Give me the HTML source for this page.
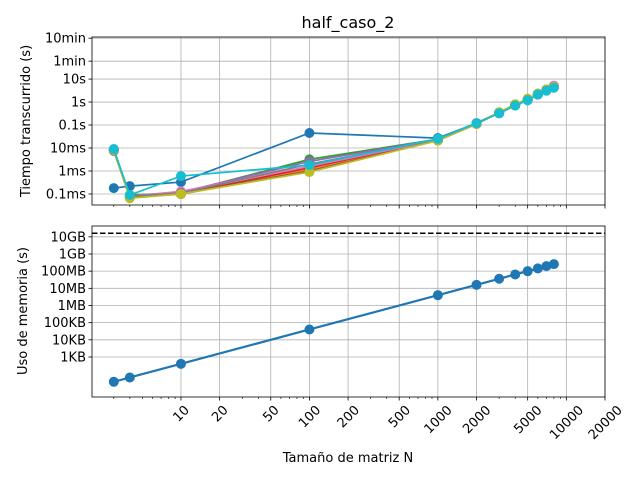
<!DOCTYPE html>
<html><head><meta charset="utf-8"><style>
html,body{margin:0;padding:0;background:#fff}
svg{display:block;font-family:"DejaVu Sans","Liberation Sans",sans-serif}
</style></head><body>
<svg id="chart" width="640" height="480" viewBox="0 0 640 480"></svg>
<script>
const nValues = [3,4,10,100,1000,2000,3000,4000,5000,6000,7000,8000];
const timeSeriesNames = ['blue','orange','green','red','purple','brown','pink','gray','olive','cyan'];
const timeBlue   = [1.8e-4,2.2e-4,3.3e-4,0.045,0.027,0.12,0.33,0.72,1.2,2.1,3.2,4.4];
const timeOrange = [0.008,7e-5,1e-4,1.2e-3,0.022,0.12,0.35,0.75,1.3,2.3,3.4,4.6];
const timeGreen  = [0.008,9e-5,1.1e-4,3.2e-3,0.024,0.12,0.34,0.74,1.25,2.2,3.3,4.5];
const timeRed    = [0.008,8e-5,1e-4,1.4e-3,0.022,0.12,0.34,0.75,1.3,2.2,3.4,4.6];
const timePurple = [0.008,8e-5,1.2e-4,2.6e-3,0.024,0.12,0.35,0.76,1.3,2.3,3.5,5.0];
const timeBrown  = [0.0075,7e-5,1e-4,1e-3,0.021,0.11,0.35,0.78,1.3,2.3,3.5,4.7];
const timePink   = [0.008,8e-5,1.3e-4,1.6e-3,0.022,0.12,0.35,0.76,1.3,2.3,3.5,5.2];
const timeGray   = [0.008,8e-5,1.1e-4,2e-3,0.023,0.12,0.34,0.75,1.3,2.2,3.4,4.6];
const timeOlive  = [0.0082,6.5e-5,1e-4,9e-4,0.021,0.11,0.36,0.8,1.4,2.3,3.5,4.6];
const timeCyan   = [0.009,9e-5,6e-4,1.8e-3,0.025,0.12,0.32,0.7,1.2,2.1,3.1,4.2];
const memoryBytes = [36,64,400,4e4,4e6,1.6e7,3.6e7,6.4e7,1e8,1.44e8,1.96e8,2.56e8];
const memoryLimit = 1.6e10;
const xTickValues = [10,20,50,100,200,500,1000,2000,5000,10000,20000];
const xTickLabels = ['10','20','50','100','200','500','1000','2000','5000','10000','20000'];
const timeTickValues = [600,60,10,1,0.1,0.01,0.001,0.0001];
const timeTickLabels = ['10min','1min','10s','1s','0.1s','10ms','1ms','0.1ms'];
const memTickValues = [1e10,1e9,1e8,1e7,1e6,1e5,1e4,1e3];
const memTickLabels = ['10GB','1GB','100MB','10MB','1MB','100KB','10KB','1KB'];

const colors = ['#1f77b4','#ff7f0e','#2ca02c','#d62728','#9467bd','#8c564b','#e377c2','#7f7f7f','#bcbd22','#17becf'];
const timeData = [timeBlue,timeOrange,timeGreen,timeRed,timePurple,timeBrown,timePink,timeGray,timeOlive,timeCyan];

const L=92,R=605, T1=37,B1=205, T2=226,B2=397;
const xMin=Math.log10(2.03), xMax=Math.log10(20000);
const x = v => L + (Math.log10(v)-xMin)/(xMax-xMin)*(R-L);
const y1Min=-4.48, y1Max=2.83;
const y1 = v => B1 - (Math.log10(v)-y1Min)/(y1Max-y1Min)*(B1-T1);
const y2Min=0.67, y2Max=10.63;
const y2 = v => B2 - (Math.log10(v)-y2Min)/(y2Max-y2Min)*(B2-T2);

const svg=document.getElementById('chart');
const NS='http://www.w3.org/2000/svg';
function mk(tag,attrs,parent){const e=document.createElementNS(NS,tag);for(const k in attrs)e.setAttribute(k,attrs[k]);(parent||svg).appendChild(e);return e;}

function axes(T,B,yf,tickVals,tickLabs,name){
  const g=mk('g',{});
  
  
  xTickValues.forEach(v=>{const px=x(v);mk('line',{x1:px,x2:px,y1:T,y2:B,stroke:'#b0b0b0','stroke-width':0.8},g);});
  tickVals.forEach((v,i)=>{const py=yf(v);
    mk('line',{x1:L,x2:R,y1:py,y2:py,stroke:'#b0b0b0','stroke-width':0.8},g);
    mk('line',{x1:L-3.5,x2:L,y1:py,y2:py,stroke:'#000','stroke-width':0.8},g);
    const t=mk('text',{x:L-6,y:py+4.5,'text-anchor':'end','font-size':'13px',fill:'#000'},g);
    t.textContent=tickLabs[i];
    
    
  });
  xTickValues.forEach(v=>mk('line',{x1:x(v),x2:x(v),y1:B,y2:B+3.5,stroke:'#000','stroke-width':0.8},g));
  for(let d=1;d<=10000;d*=10)for(let m=2;m<=9;m++){const v=m*d;if(v<2.03||v>20000)continue;if(xTickValues.includes(v))continue;
    mk('line',{x1:x(v),x2:x(v),y1:B,y2:B+2,stroke:'#000','stroke-width':0.6},g);}
  return g;
}
const gTop=axes(T1,B1,y1,timeTickValues,timeTickLabels,'time-axes');
const gBot=axes(T2,B2,y2,memTickValues,memTickLabels,'memory-axes');

timeData.forEach((arr,si)=>{
  const g=mk('g',{});
  
  
  const pts=arr.map((v,i)=>x(nValues[i])+','+y1(v)).join(' ');
  mk('polyline',{points:pts,fill:'none',stroke:colors[si],'stroke-width':1.7},g);
  arr.forEach((v,i)=>{const c=mk('circle',{cx:x(nValues[i]),cy:y1(v),r:5,fill:colors[si]},g);
    
    });
});
(function(){
  const g=mk('g',{});
  
  
  const lim=mk('line',{x1:L,x2:R,y1:y2(memoryLimit),y2:y2(memoryLimit),stroke:'#000','stroke-width':1.5,'stroke-dasharray':'5.5,2.5'},g);
  
  
  const pts=memoryBytes.map((v,i)=>x(nValues[i])+','+y2(v)).join(' ');
  mk('polyline',{points:pts,fill:'none',stroke:'#1f77b4','stroke-width':2.2},g);
  memoryBytes.forEach((v,i)=>{const c=mk('circle',{cx:x(nValues[i]),cy:y2(v),r:5,fill:'#1f77b4'},g);
    
    });
})();
[[T1,B1],[T2,B2]].forEach(([T,B])=>{const r=mk('rect',{x:L,y:T,width:R-L,height:B-T,fill:'none',stroke:'#000','stroke-width':0.8});
  
  });
xTickValues.forEach((v,i)=>{
  const lab=xTickLabels[i];const w=lab.length*8.3;const cy=B2+6+(w+13)*0.354;
  const t=mk('text',{x:0,y:0,'text-anchor':'middle','font-size':'13px',fill:'#000',transform:`translate(${x(v)},${cy}) rotate(-45) translate(0,4.5)`});
  t.textContent=lab;
  
  
});
function label(txt,attrs,name){const t=mk('text',Object.assign({fill:'#000'},attrs));t.textContent=txt;
  
  }
label('half_caso_2',{x:348,y:28,'text-anchor':'middle','font-size':'16px'},'chart-title');
label('Tamaño de matriz N',{x:348,y:462,'text-anchor':'middle','font-size':'13px'},'x-axis-title');
label('Tiempo transcurrido (s)',{x:0,y:0,'text-anchor':'middle','font-size':'13px',transform:'translate(30,121) rotate(-90)'},'y-axis-title-time');
label('Uso de memoria (s)',{x:0,y:0,'text-anchor':'middle','font-size':'13px',transform:'translate(27,311) rotate(-90)'},'y-axis-title-memory');
</script>
</body></html>
